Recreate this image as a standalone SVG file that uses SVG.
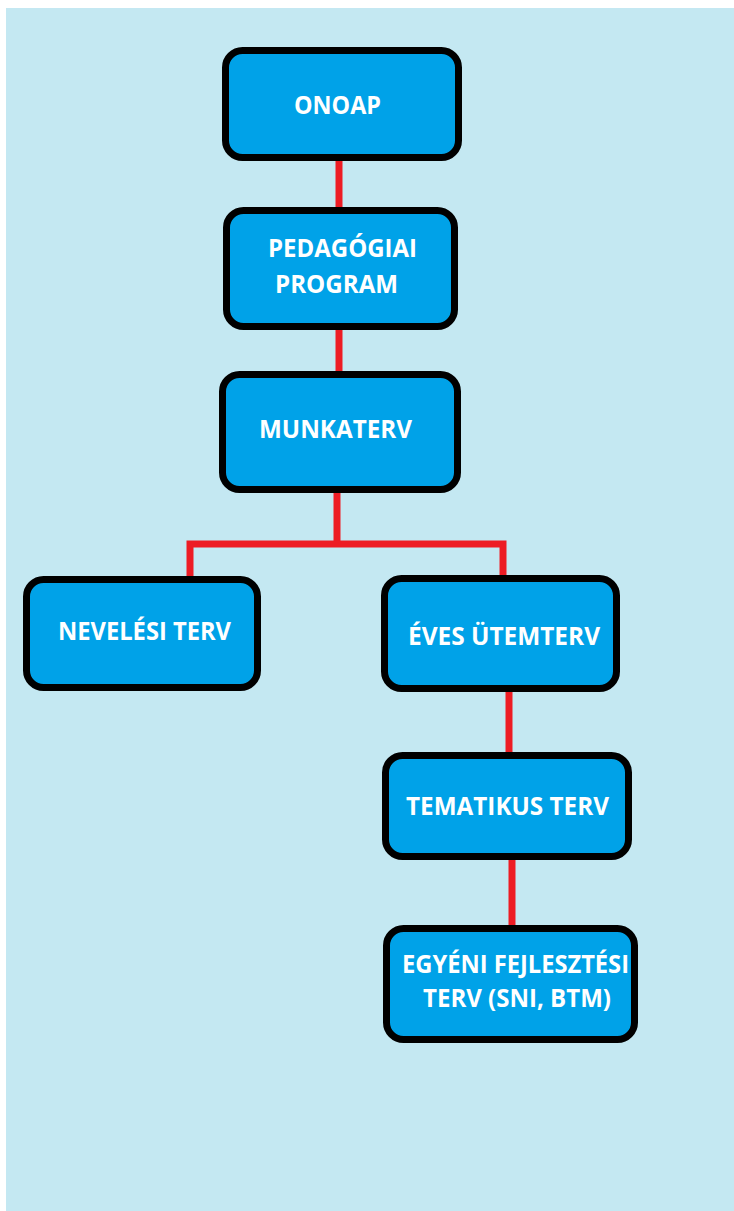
<svg xmlns="http://www.w3.org/2000/svg" width="734" height="1211" viewBox="0 0 734 1211">
<style>
.bg{fill:#C4E8F2}
.box{fill:#00A2E8;stroke:#000;stroke-width:7}
.lbl{font-family:"Open Sans","Liberation Sans",sans-serif;font-weight:bold;font-size:25px;fill:#fff}
.con{fill:none;stroke:#ED1C24;stroke-width:7;stroke-linecap:round;stroke-linejoin:miter}
</style>
<rect x="0" y="0" width="734" height="1211" fill="#fff"/>
<rect class="bg" x="6" y="8" width="728" height="1203"/>
<g id="connectors">
<line class="con" x1="339" y1="161" x2="339" y2="207"/>
<line class="con" x1="339" y1="330" x2="339" y2="371"/>
<path class="con" d="M337 493 V544 M190 578 V544 H503 V577"/>
<line class="con" x1="509" y1="692" x2="509" y2="752"/>
<line class="con" x1="512" y1="860" x2="512" y2="925"/>
</g>
<g id="onoap">
<rect class="box" x="225.5" y="50.5" width="233" height="107" rx="17"/>
<text class="lbl" x="294" y="114" textLength="87" lengthAdjust="spacingAndGlyphs">ONOAP</text>
</g>
<g id="pedagogiai">
<rect class="box" x="226.5" y="210.5" width="228" height="116" rx="17"/>
<text class="lbl" x="268" y="257" textLength="149" lengthAdjust="spacingAndGlyphs">PEDAGÓGIAI</text>
<text class="lbl" x="275" y="293" textLength="123" lengthAdjust="spacingAndGlyphs">PROGRAM</text>
</g>
<g id="munkaterv">
<rect class="box" x="222.5" y="374.5" width="235" height="115" rx="17"/>
<text class="lbl" x="259" y="438" textLength="153" lengthAdjust="spacingAndGlyphs">MUNKATERV</text>
</g>
<g id="nevelesi">
<rect class="box" x="26.5" y="579.5" width="231" height="108" rx="17"/>
<text class="lbl" x="58" y="640" textLength="173" lengthAdjust="spacingAndGlyphs">NEVELÉSI TERV</text>
</g>
<g id="eves">
<rect class="box" x="384.5" y="578.5" width="232" height="110" rx="17"/>
<text class="lbl" x="408" y="645" textLength="192" lengthAdjust="spacingAndGlyphs">ÉVES ÜTEMTERV</text>
</g>
<g id="tematikus">
<rect class="box" x="385.5" y="755.5" width="243" height="101" rx="17"/>
<text class="lbl" x="406" y="815" textLength="203" lengthAdjust="spacingAndGlyphs">TEMATIKUS TERV</text>
</g>
<g id="egyeni">
<rect class="box" x="386.5" y="928.5" width="248" height="111" rx="17"/>
<text class="lbl" x="402" y="973" textLength="227" lengthAdjust="spacingAndGlyphs">EGYÉNI FEJLESZTÉSI</text>
<text class="lbl" x="423" y="1007" textLength="188" lengthAdjust="spacingAndGlyphs">TERV (SNI, BTM)</text>
</g>
</svg>
